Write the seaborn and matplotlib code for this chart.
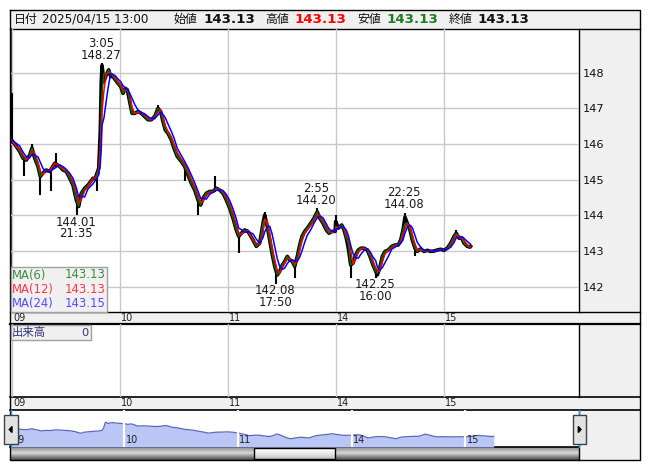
import numpy as np
import pandas as pd
import matplotlib
matplotlib.use("Agg")
import matplotlib.pyplot as plt
import matplotlib.transforms as mtransforms
from matplotlib.patches import Rectangle, Polygon
import seaborn as sns

# ---------------- data ----------------
day_labels = ["09", "10", "11", "14", "15"]
day_start_hours = [0, 24, 48, 72, 96]          # trading hours since 04/09 07:00
price_ticks = [142, 143, 144, 145, 146, 147, 148]

hours = [0.0, 1.04, 1.8, 2.53, 3.27, 4.02, 4.53, 5.13, 5.87, 6.38,
         6.98, 7.71, 8.47, 9.58, 10.69, 11.42, 12.16, 12.91, 13.64, 14.38,
         14.91, 15.49, 16.24, 16.98, 18.09, 18.6, 19.36, 19.71, 19.93, 20.09,
         20.53, 21.04, 21.58, 22.02, 22.53, 23.04, 23.64, 24.24, 24.76, 25.27,
         25.71, 26.24, 26.76, 27.36, 28.09, 28.82, 29.58, 30.31, 31.04, 31.8,
         32.53, 33.13, 33.64, 34.16, 34.76, 35.49, 36.09, 36.82, 37.71, 38.47,
         39.2, 39.93, 40.69, 41.42, 42.02, 42.53, 43.27, 44.02, 44.76, 45.49,
         46.24, 46.98, 47.71, 48.47, 49.2, 49.93, 50.47, 51.04, 51.8, 52.53,
         53.64, 54.38, 55.13, 55.87, 56.24, 56.82, 57.36, 57.87, 58.47, 59.04,
         59.58, 60.16, 60.69, 61.27, 61.8, 62.38, 62.91, 63.49, 64.02, 64.53,
         65.13, 65.71, 66.47, 67.2, 67.92, 68.47, 69.2, 69.93, 70.53, 71.2,
         71.9, 72.02, 72.6, 73.36, 73.87, 74.38, 74.82, 75.36, 75.87, 76.47,
         77.04, 77.64, 78.31, 79.04, 79.64, 80.31, 80.91, 81.27, 81.8, 82.38,
         82.98, 83.71, 84.47, 85.2, 85.93, 86.47, 86.98, 87.42, 87.93, 88.53,
         89.04, 89.64, 90.16, 90.91, 91.64, 92.38, 93.13, 93.87, 94.6, 95.36,
         96.09, 96.82, 97.58, 98.31, 98.82, 99.42, 100.02, 100.53, 101.27, 101.87,
         102.0]

price = [146.11, 145.93, 145.79, 145.60, 145.55, 145.69, 145.89, 145.60, 145.37, 145.09,
         145.19, 145.27, 145.23, 145.46, 145.37, 145.27, 145.23, 145.04, 144.85, 144.43,
         144.25, 144.62, 144.76, 144.85, 145.04, 145.04, 145.32, 146.35, 147.75, 148.20,
         147.75, 147.94, 148.08, 147.89, 147.89, 147.80, 147.70, 147.61, 147.42, 147.56,
         147.52, 147.19, 146.86, 146.86, 146.91, 146.86, 146.77, 146.68, 146.68, 146.77,
         147.00, 146.91, 146.63, 146.39, 146.30, 146.11, 145.88, 145.65, 145.51, 145.37,
         145.13, 144.90, 144.71, 144.43, 144.29, 144.48, 144.62, 144.67, 144.67, 144.76,
         144.71, 144.62, 144.43, 144.20, 143.92, 143.59, 143.41, 143.50, 143.59, 143.55,
         143.31, 143.13, 143.22, 143.78, 144.01, 143.69, 143.31, 142.94, 142.57, 142.33,
         142.43, 142.61, 142.71, 142.85, 142.75, 142.71, 142.57, 142.85, 143.17, 143.41,
         143.55, 143.64, 143.78, 143.92, 144.10, 143.92, 143.78, 143.59, 143.50, 143.55,
         143.55, 143.83, 143.64, 143.73, 143.59, 143.36, 143.08, 142.61, 142.66, 142.89,
         143.03, 143.08, 143.08, 143.03, 142.85, 142.61, 142.43, 142.33, 142.52, 142.85,
         142.99, 143.03, 143.13, 143.17, 143.17, 143.31, 143.59, 143.95, 143.78, 143.59,
         143.31, 143.08, 142.99, 143.06, 142.99, 143.02, 142.99, 143.00, 143.03, 143.05,
         143.02, 143.08, 143.22, 143.41, 143.50, 143.36, 143.36, 143.22, 143.13, 143.11,
         143.13]

wick_hours = [0.0, 2.7, 4.5, 6.2, 8.8, 9.9, 14.58, 19.04, 20.09, 32.5, 38.5, 41.4,
              45.1, 50.5, 56.24, 58.83, 62.9, 67.92, 72.0, 75.36, 81.0, 87.42, 89.6, 98.7]
wick_low = [146.05, 145.10, 145.80, 144.57, 144.67, 145.35, 144.01, 144.67, 147.80, 146.90,
            144.95, 144.01, 144.65, 142.95, 143.95, 142.08, 142.25, 143.95, 143.55, 142.25,
            142.25, 143.85, 142.85, 143.45]
wick_high = [147.43, 145.65, 146.00, 145.15, 145.25, 145.75, 144.45, 145.10, 148.27, 147.10,
             145.40, 144.45, 145.10, 143.45, 144.10, 142.40, 142.60, 144.20, 144.00, 142.65,
             142.45, 144.08, 143.10, 143.60]

ext_hours = [20.09, 14.58, 67.92, 58.83, 87.42, 81.0]
ext_values = [148.27, 144.01, 144.20, 142.08, 144.08, 142.25]
ext_times = ["3:05", "21:35", "2:55", "17:50", "22:25", "16:00"]
ext_is_high = [True, False, True, False, True, False]

ma_names = ["MA(6)", "MA(12)", "MA(24)"]
ma_windows = ["30min", "60min", "120min"]
ma_last = ["143.13", "143.13", "143.15"]

header_date_label = "日付"
header_date = "2025/04/15 13:00"
ohlc_labels = ["始値", "高値", "安値", "終値"]
ohlc_values = ["143.13", "143.13", "143.13", "143.13"]
volume_label = "出来高"
volume_value = "0"

# ---------------- figure ----------------
plt.rcParams['font.family'] = ['DejaVu Sans', 'Noto Sans CJK JP']
W, H = 653, 470
fig = plt.figure(figsize=(W / 100, H / 100), dpi=100)
fig.patch.set_facecolor("white")


def px_rect(x0, y0, x1, y1):
    return [x0 / W, 1 - y1 / H, (x1 - x0) / W, (y1 - y0) / H]


bg = fig.add_axes([0, 0, 1, 1], zorder=0)
GRAY = "#f0f0f0"
GRID = "#c8c8c8"


def rect(ax, x0, y0, x1, y1, fc, ec="none", lw=1.0, z=1, alpha=1.0):
    ax.add_patch(Rectangle((x0, y0), x1 - x0, y1 - y0, facecolor=fc, edgecolor=ec,
                           linewidth=lw, zorder=z, alpha=alpha))


rect(bg, 10, 10, 640, 460, "white")
rect(bg, 10, 10, 640, 29, GRAY)
rect(bg, 579, 29, 640, 312, GRAY)
rect(bg, 10, 312, 640, 324, GRAY)
rect(bg, 579, 324, 640, 397, GRAY)
rect(bg, 10, 397, 640, 410, GRAY)
rect(bg, 579, 410, 640, 460, GRAY)

# scrollbar gradient
g = np.interp(np.linspace(0, 1, 20), [0, 0.45, 1], [0.55, 0.85, 0.30])
bg.imshow(np.dstack([g, g, g]).reshape(20, 1, 3), extent=(10, 579, 460, 447), aspect="auto", zorder=2,
          interpolation="bilinear")
g2 = np.interp(np.linspace(0, 1, 20), [0, 0.5, 1], [1.0, 0.92, 0.75])
bg.imshow(np.dstack([g2, g2, g2]).reshape(20, 1, 3), extent=(254, 335, 459, 448), aspect="auto", zorder=3,
          interpolation="bilinear")
rect(bg, 254, 448, 335, 459, "none", "black", 1, z=4)

# borders
bg.plot([10, 640, 640, 10, 10], [10, 10, 460, 460, 10], color="black", lw=1, zorder=5)
for yy, lw, x_end in [(29, 1, 640), (312, 1, 640), (324, 1.6, 640), (397, 1.2, 640),
                      (410, 1.2, 640), (447, 1.2, 579)]:
    bg.plot([10, x_end], [yy, yy], color="black", lw=lw, zorder=5)
bg.plot([579, 579], [29, 312], color="black", lw=1, zorder=5)
bg.plot([579, 579], [324, 397], color="black", lw=1, zorder=5)
bg.plot([579, 579], [410, 460], color="black", lw=1, zorder=5)
bg.plot([10.5, 10.5], [29, 312], color="black", lw=1.2, zorder=5)

bg.set_xlim(0, W)
bg.set_ylim(H, 0)
bg.axis("off")

# header text
hy = 19.5
bg.text(14, hy, header_date_label, fontsize=8.6, va="center", ha="left", color="#111111", zorder=6)
bg.text(42, hy, header_date, fontsize=8.6, va="center", ha="left", color="#111111", zorder=6)
lab_x = [173, 265, 357, 449]
val_x = [203, 294, 386, 477]
val_colors = ["#111111", "#ff0000", "#1e7b1e", "#111111"]
for lx, vx, lab, val, c in zip(lab_x, val_x, ohlc_labels, ohlc_values, val_colors):
    bg.text(lx, hy, lab, fontsize=8.6, va="center", ha="left", color="#111111", zorder=6)
    bg.text(vx, hy, val, fontsize=9.6, va="center", ha="left", color=c, fontweight="bold", zorder=6)

# ---------------- main price axes ----------------
PX_PER_H = 4.5
X0 = 11.6
xl = ((11 - X0) / PX_PER_H, (579 - X0) / PX_PER_H)
yl = (141.291, 149.224)

ax = fig.add_axes(px_rect(11, 29, 579, 312), zorder=2)
ax.patch.set_alpha(0)
ax.set_xlim(*xl)
ax.set_ylim(*yl)
ax.set_xticks(day_start_hours)
ax.set_yticks(price_ticks)
ax.set_yticklabels([str(t) for t in price_ticks])
ax.grid(True, color=GRID, lw=1)
ax.set_axisbelow(True)
ax.yaxis.tick_right()
ax.tick_params(axis="y", length=0, pad=2.5, labelsize=8.2, labelcolor="#111111")
ax.tick_params(axis="x", length=0, labelbottom=False)
for sp in ax.spines.values():
    sp.set_visible(False)

sns.lineplot(x=hours, y=price, ax=ax, color="black", lw=2.6, estimator=None, sort=False, zorder=3)
ax.vlines(wick_hours, wick_low, wick_high, color="black", lw=1.5, zorder=3)

t0 = pd.Timestamp("2025-04-09 07:00")
s = pd.Series(price, index=t0 + pd.to_timedelta(hours, unit="h"))
ma_colors = ["#006e00", "#ff0000", "#0000ff"]
for w, c in zip(ma_windows, ma_colors):
    m = s.rolling(w).mean().values
    sns.lineplot(x=hours, y=m, ax=ax, color=c, lw=1.1, estimator=None, sort=False, zorder=4)
ax.set_xlabel("")
ax.set_ylabel("")

for h, v, tlab, hi in zip(ext_hours, ext_values, ext_times, ext_is_high):
    vtxt = f"{v:.2f}"
    if hi:
        lines = [(tlab, 20), (vtxt, 8)]
    else:
        lines = [(vtxt, -7), (tlab, -18.5)]
    for txt, dy in lines:
        ax.annotate(txt, xy=(h, v), xytext=(-1, dy), textcoords="offset pixels",
                    ha="center", va="center", fontsize=8.4, color="#1a1a1a", zorder=6)

# ---------------- volume axes ----------------
vax = fig.add_axes(px_rect(11, 324, 579, 397), zorder=2)
vax.patch.set_alpha(0)
vax.set_xlim(*xl)
vax.set_ylim(0, 1)
vax.set_xticks(day_start_hours)
vax.set_yticks([])
vax.grid(True, axis="x", color=GRID, lw=1)
vax.tick_params(length=0, labelbottom=False)
for sp in vax.spines.values():
    sp.set_visible(False)

# ---------------- navigator axes ----------------
NAV_PX_PER_H = 113.7 / 24
nxl = (0, (579 - 10.5) / NAV_PX_PER_H)
nyl = (139.37, 152.54)
nax = fig.add_axes(px_rect(10.5, 410, 579, 447), zorder=2)
nax.patch.set_alpha(0)
nax.set_xlim(*nxl)
nax.set_ylim(*nyl)
nax.fill_between(hours, price, nyl[0], color="#b9c6f6", lw=0, zorder=1)
sns.lineplot(x=hours, y=price, ax=nax, color="#5a68b8", lw=0.9, estimator=None, sort=False, zorder=2)
nax.vlines(day_start_hours[1:], nyl[0], nyl[1], color="white", lw=1.6, zorder=3)
ntrans = mtransforms.offset_copy(mtransforms.blended_transform_factory(nax.transData, nax.transAxes),
                                 fig=fig, x=1.5, y=0, units="dots")
for h, lab in zip(day_start_hours, day_labels):
    nax.text(h, 0.2, lab, transform=ntrans, fontsize=7, ha="left", va="center", color="#222222", zorder=4)
nax.set_xticks([])
nax.set_yticks([])
nax.set_xlabel("")
nax.set_ylabel("")
for sp in nax.spines.values():
    sp.set_visible(False)

# ---------------- overlay (labels, boxes, buttons) ----------------
ov = fig.add_axes([0, 0, 1, 1], zorder=10)
ov.patch.set_alpha(0)
ov.set_xlim(0, W)
ov.set_ylim(H, 0)
ov.axis("off")

# date bands
for band_y in (318, 403.5):
    trans = mtransforms.offset_copy(mtransforms.blended_transform_factory(ax.transData, ov.transData),
                                    fig=fig, x=1.5, y=0, units="dots")
    for h, lab in zip(day_start_hours, day_labels):
        ov.text(h, band_y, lab, transform=trans, fontsize=7, ha="left", va="center", color="#222222")

# MA legend box
rect(ov, 10.5, 267, 107, 311.5, GRAY, "#a0a0a0", 1)
ma_text_colors = ["#3c8c3c", "#ff3350", "#5548ff"]
for i, (nm, val, c) in enumerate(zip(ma_names, ma_last, ma_text_colors)):
    yy = 275 + 14.2 * i
    ov.text(12, yy, nm, fontsize=8.4, color=c, ha="left", va="center")
    ov.text(106, yy, val, fontsize=8.4, color=c, ha="right", va="center")

# volume label box
rect(ov, 10.5, 325, 91, 339.5, GRAY, "#a0a0a0", 1)
ov.text(12, 332.5, volume_label, fontsize=8.2, color="#34347a", ha="left", va="center")
ov.text(89, 332.5, volume_value, fontsize=8.2, color="#34347a", ha="right", va="center")

# navigator range markers and buttons
ov.plot([10.5, 10.5], [410, 447], color="#1aa7e0", lw=1, zorder=1)
ov.plot([579, 579], [410, 447], color="#1aa7e0", lw=1, zorder=1)
rect(ov, 4, 415, 17.5, 444, "#e2e2e2", "#404040", 1, z=3)
rect(ov, 573, 415, 586, 444, "#e2e2e2", "#404040", 1, z=3)
ov.add_patch(Polygon([(9.3, 429.5), (12, 426.5), (12, 432.5)], closed=True, color="black", zorder=4))
ov.add_patch(Polygon([(581, 429.5), (578.3, 426.5), (578.3, 432.5)], closed=True, color="black", zorder=4))

fig.savefig("out.png", dpi=100, facecolor="white")
